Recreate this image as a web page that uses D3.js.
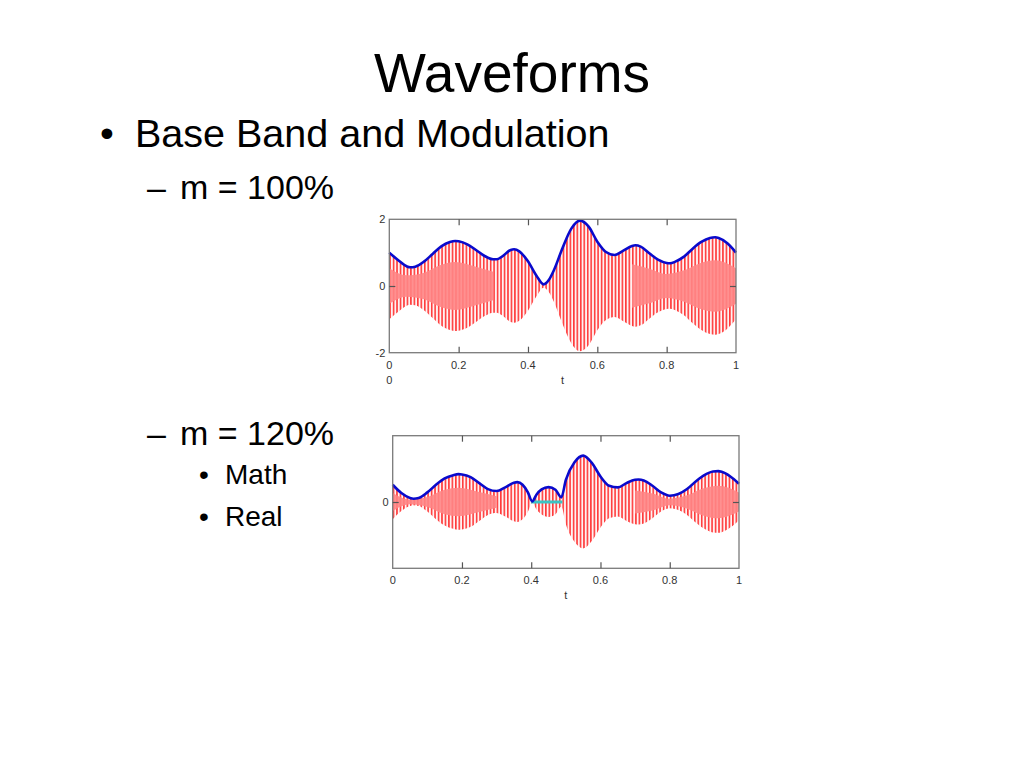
<!DOCTYPE html>
<html>
<head>
<meta charset="utf-8">
<script src="https://cdn.jsdelivr.net/npm/d3@7"></script>
<style>
body { margin: 0; background: #fff; }
svg { display: block; font-family: "Liberation Sans", Arial, sans-serif; }
</style>
</head>
<body>
<svg id="slide" width="1024" height="768"></svg>
<script>
// ---- data ----
var xTicks = [0, 0.2, 0.4, 0.6, 0.8, 1];
var xTickLabels = ["0", "0.2", "0.4", "0.6", "0.8", "1"];
var innerTicks = [0.2, 0.4, 0.6, 0.8];

// envelope, m = 100%
var envT1 = [0, 0.025, 0.05, 0.06, 0.075, 0.1, 0.125, 0.15, 0.175, 0.19, 0.2, 0.225, 0.25, 0.275, 0.3, 0.31,
             0.325, 0.35, 0.36, 0.375, 0.4, 0.425, 0.445, 0.46, 0.475, 0.5, 0.525, 0.55, 0.575, 0.6, 0.625,
             0.65, 0.675, 0.7, 0.71, 0.725, 0.75, 0.775, 0.8, 0.81, 0.825, 0.85, 0.875, 0.9, 0.925, 0.94, 0.95, 0.975, 1];
var env1 = [1.0, 0.78, 0.59, 0.56, 0.58, 0.73, 0.96, 1.19, 1.32, 1.35, 1.34, 1.25, 1.08, 0.9, 0.8, 0.8,
            0.88, 1.08, 1.1, 1.04, 0.74, 0.3, 0.05, 0.18, 0.48, 1.15, 1.72, 1.96, 1.78, 1.33, 1.02,
            0.93, 1.06, 1.2, 1.22, 1.18, 0.98, 0.79, 0.69, 0.68, 0.73, 0.88, 1.12, 1.32, 1.44, 1.46, 1.44, 1.28, 1.0];

// envelope, m = 120% (Real)
var envT2 = [0, 0.025, 0.05, 0.06, 0.075, 0.1, 0.125, 0.15, 0.175, 0.19, 0.2, 0.225, 0.25, 0.275, 0.3,
             0.325, 0.35, 0.36, 0.375, 0.39, 0.403, 0.415, 0.43, 0.45, 0.47, 0.487, 0.5, 0.525, 0.55, 0.575,
             0.6, 0.625, 0.65, 0.675, 0.7, 0.71, 0.725, 0.75, 0.775, 0.8, 0.825, 0.85, 0.875, 0.9, 0.925, 0.94, 0.95, 0.975, 1];
var env2 = [0.52, 0.27, 0.12, 0.1, 0.12, 0.29, 0.52, 0.71, 0.81, 0.84, 0.83, 0.75, 0.57, 0.39, 0.33,
            0.44, 0.58, 0.6, 0.52, 0.3, 0.02, 0.22, 0.38, 0.45, 0.37, 0.14, 0.67, 1.2, 1.4, 1.18,
            0.77, 0.49, 0.44, 0.57, 0.67, 0.68, 0.65, 0.49, 0.29, 0.19, 0.24, 0.39, 0.62, 0.81, 0.92, 0.93, 0.91, 0.77, 0.55];

// dense pink core of the carrier
var coreTLeft = [0, 0.05, 0.1, 0.15, 0.19, 0.25, 0.3];
var coreTRight = [0.7, 0.75, 0.8, 0.85, 0.9, 0.94, 1];
var core1Left = [0.53, 0.32, 0.4, 0.64, 0.72, 0.58, 0.43];
var core1Right = [0.65, 0.52, 0.36, 0.47, 0.7, 0.77, 0.53];
var core2Left = [0.27, 0.07, 0.15, 0.37, 0.43, 0.3, 0.17];
var core2Right = [0.35, 0.26, 0.1, 0.2, 0.42, 0.49, 0.29];

// "Math" envelope clipped to zero, m = 120%
var mathZeroT = [0.4, 0.49];

var svg = d3.select("#slide");

// ---- slide text ----
svg.append("text").attr("x", 512).attr("y", 92).attr("text-anchor", "middle")
   .style("font-size", "55px").text("Waveforms");

var lines = [
  {x: 100, bx: 135, y: 147, size: 39.5, mark: "\u2022", text: "Base Band and Modulation"},
  {x: 147, bx: 180, y: 199, size: 34, mark: "\u2013", text: "m = 100%"},
  {x: 147, bx: 180, y: 445, size: 34, mark: "\u2013", text: "m = 120%"},
  {x: 199, bx: 225, y: 484, size: 28, mark: "\u2022", text: "Math"},
  {x: 199, bx: 225, y: 526, size: 28, mark: "\u2022", text: "Real"}
];
lines.forEach(function(d) {
  svg.append("text").attr("x", d.x).attr("y", d.y).style("font-size", d.size + "px").text(d.mark);
  svg.append("text").attr("x", d.bx).attr("y", d.y).style("font-size", d.size + "px").text(d.text);
});

// carrier stripes
var defs = svg.append("defs");
function stripePattern(id, x0, w) {
  var p = defs.append("pattern").attr("id", id).attr("patternUnits", "userSpaceOnUse")
     .attr("x", x0).attr("y", 0).attr("width", w / 100).attr("height", 10);
  p.append("rect").attr("width", w / 100).attr("height", 10).attr("fill", "#fff2f2");
  p.append("rect").attr("width", 1.6).attr("height", 10).attr("fill", "#ff3a3a");
}

function drawChart(c) {
  var x = d3.scaleLinear().domain([0, 1]).range([c.left, c.left + c.w]);
  var y = d3.scaleLinear().domain([-2, 2]).range([c.top + c.h, c.top]);
  var g = svg.append("g");
  stripePattern(c.id, c.left, c.w);

  var env = c.envT.map(function(t, i) { return {t: t, v: c.env[i]}; });
  var area = d3.area().curve(d3.curveMonotoneX)
     .x(function(d) { return x(d.t); })
     .y0(function(d) { return y(-d.v); })
     .y1(function(d) { return y(d.v); });

  g.append("path").datum(env).attr("d", area).attr("fill", "url(#" + c.id + ")");

  c.cores.forEach(function(core) {
    var pts = core[0].map(function(t, i) { return {t: t, v: core[1][i]}; });
    g.append("path").datum(pts).attr("d", area).attr("fill", "#ff8585").attr("opacity", 0.9);
  });

  if (c.zeroT) {
    g.append("line").attr("x1", x(c.zeroT[0])).attr("x2", x(c.zeroT[1]))
     .attr("y1", y(0)).attr("y2", y(0))
     .attr("stroke", "#3cc3c3").attr("stroke-width", 3);
  }

  var line = d3.line().curve(d3.curveMonotoneX)
     .x(function(d) { return x(d.t); })
     .y(function(d) { return y(d.v); });
  g.append("path").datum(env).attr("d", line)
   .attr("fill", "none").attr("stroke", "#0a0acc").attr("stroke-width", 2.6);

  // frame and inward ticks
  g.append("rect").attr("x", c.left).attr("y", c.top).attr("width", c.w).attr("height", c.h)
   .attr("fill", "none").attr("stroke", "#7a7a7a").attr("stroke-width", 1.3);

  var tickStyle = function(sel) {
    sel.select(".domain").remove();
    sel.selectAll("line").attr("stroke", "#555").attr("stroke-width", 1.2);
  };
  g.append("g").attr("transform", "translate(0," + (c.top + c.h) + ")")
   .call(d3.axisBottom(x).tickValues(innerTicks).tickSize(-6).tickFormat(""))
   .call(tickStyle);
  g.append("g").attr("transform", "translate(0," + c.top + ")")
   .call(d3.axisTop(x).tickValues(innerTicks).tickSize(-6).tickFormat(""))
   .call(tickStyle);
  g.append("g").attr("transform", "translate(" + c.left + ",0)")
   .call(d3.axisLeft(y).tickValues([0]).tickSize(-6).tickFormat(""))
   .call(tickStyle);
  g.append("g").attr("transform", "translate(" + (c.left + c.w) + ",0)")
   .call(d3.axisRight(y).tickValues([0]).tickSize(-6).tickFormat(""))
   .call(tickStyle);

  // labels
  var lab = g.append("g").style("font-size", "11px").attr("fill", "#333");
  lab.selectAll(".xl").data(xTicks).enter().append("text")
     .attr("x", function(d) { return x(d); })
     .attr("y", c.top + c.h + 16)
     .attr("text-anchor", "middle")
     .text(function(d, i) { return xTickLabels[i]; });
  lab.selectAll(".yl").data(c.yTicks).enter().append("text")
     .attr("x", c.left - 4).attr("y", function(d) { return y(d) + 4; })
     .attr("text-anchor", "end")
     .text(function(d) { return d; });
  lab.append("text").attr("x", x(0.5)).attr("y", c.top + c.h + 31)
     .attr("text-anchor", "middle").text("t");
  if (c.secondZero) {
    lab.append("text").attr("x", x(0)).attr("y", c.top + c.h + 31)
       .attr("text-anchor", "middle").text("0");
  }
}

drawChart({id: "car1", left: 389.3, top: 219.3, w: 346.7, h: 133.4,
           envT: envT1, env: env1,
           cores: [[coreTLeft, core1Left], [coreTRight, core1Right]],
           yTicks: [2, 0, -2], secondZero: true});

drawChart({id: "car2", left: 392.7, top: 435.7, w: 346.3, h: 132.6,
           envT: envT2, env: env2,
           cores: [[coreTLeft, core2Left], [coreTRight, core2Right]],
           zeroT: mathZeroT, yTicks: [0], secondZero: false});
</script>
</body>
</html>
